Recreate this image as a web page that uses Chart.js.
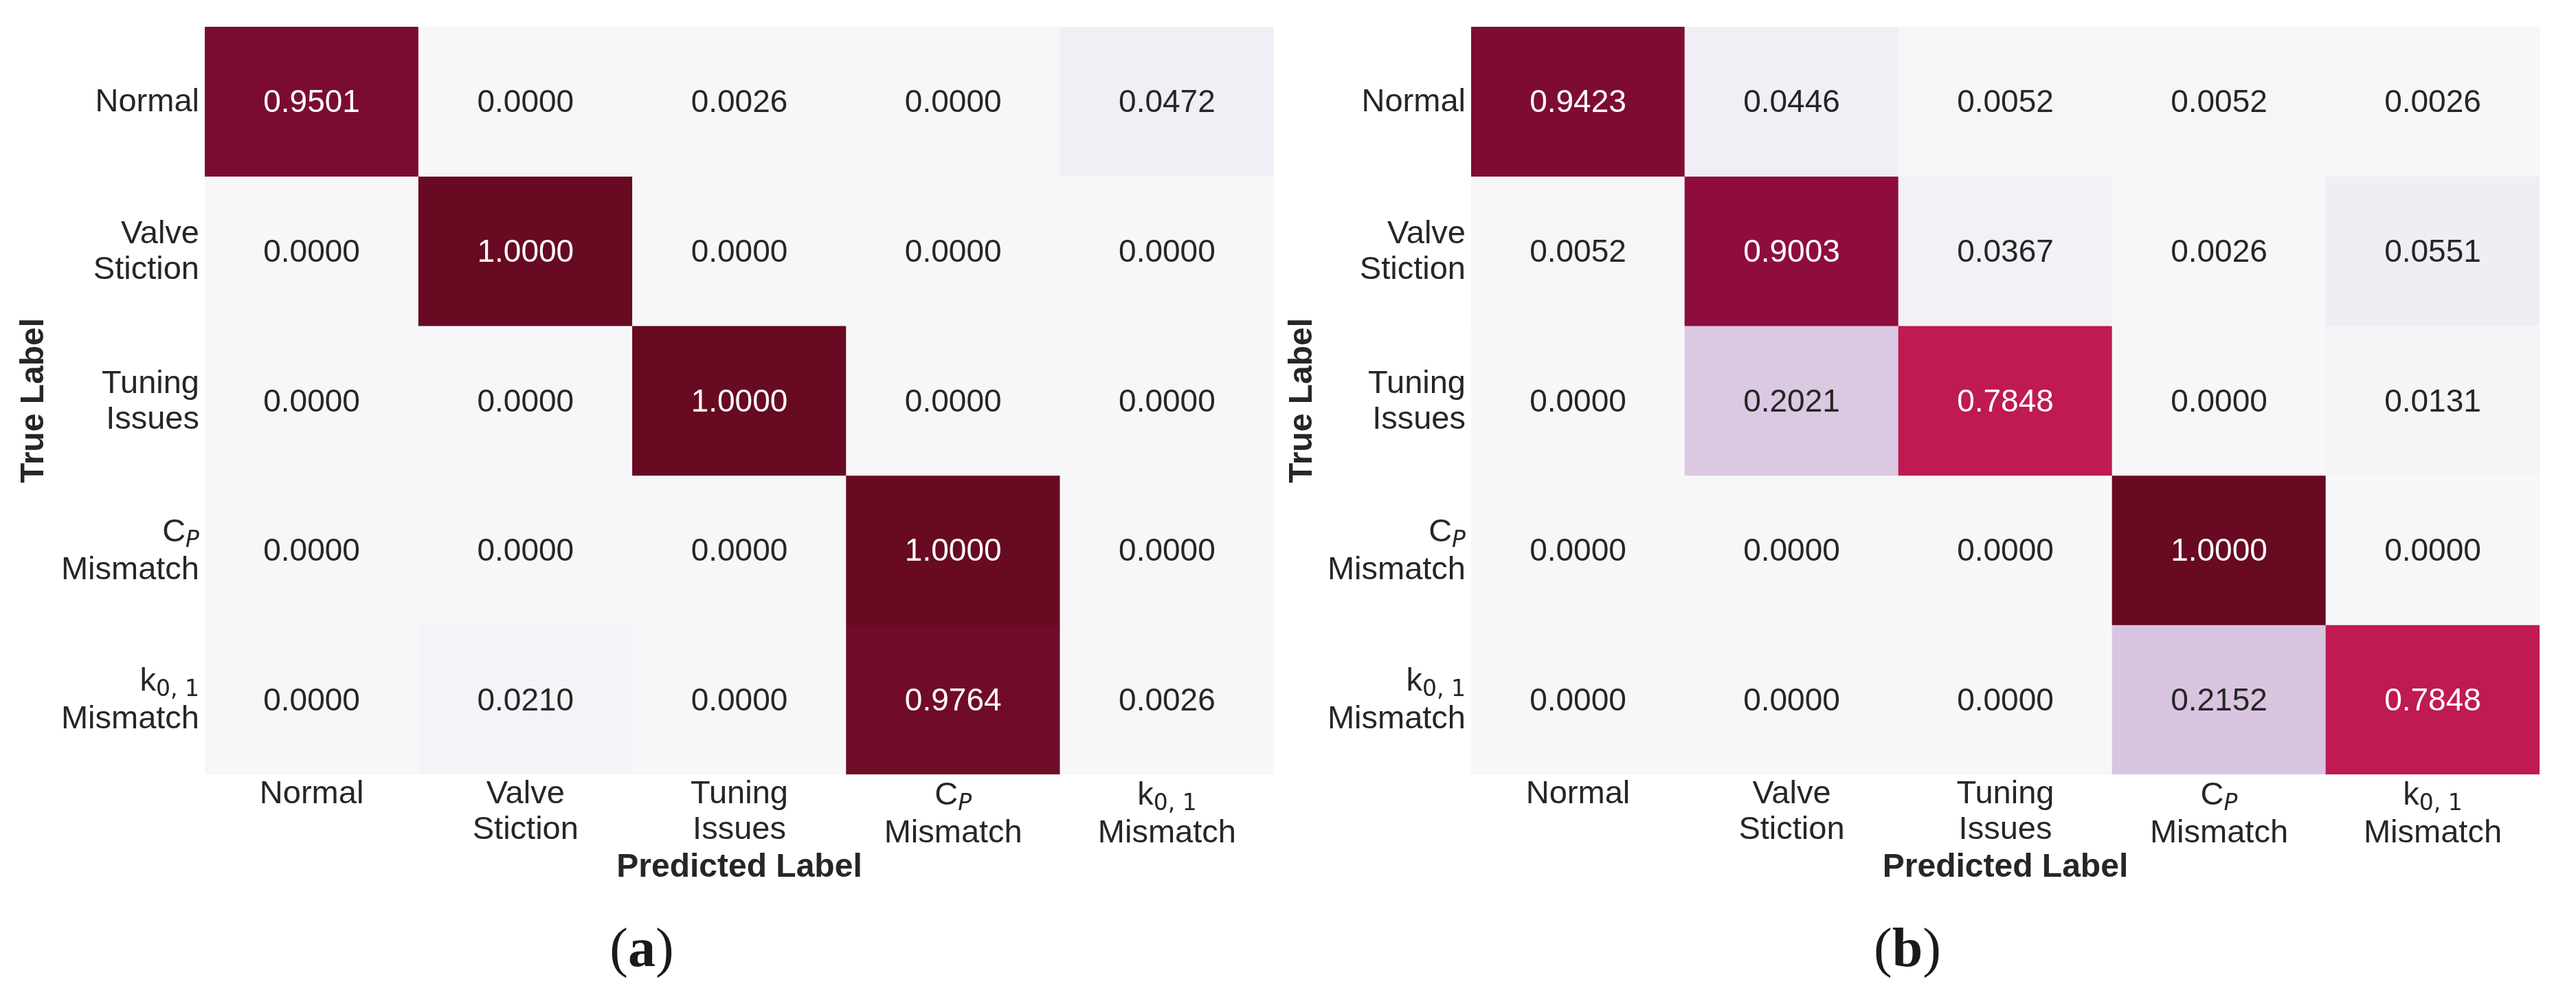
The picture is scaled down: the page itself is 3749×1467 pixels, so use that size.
<!DOCTYPE html>
<html><head><meta charset="utf-8">
<script src="https://cdn.jsdelivr.net/npm/chart.js@4.4.1/dist/chart.umd.min.js"></script>
<style>
html,body{margin:0;padding:0;background:#fff;}
body{width:3749px;height:1467px;position:relative;overflow:hidden;}
canvas{position:absolute;top:0;}
</style></head><body>
<canvas id="cA" width="1875" height="1467" style="left:0px"></canvas>
<canvas id="cB" width="1903" height="1467" style="left:1846px"></canvas>
<script>
// ---- data ----
const classLabels = ["Normal", "Valve\nStiction", "Tuning\nIssues", "C$_{P}$\nMismatch", "k$_{0, 1}$\nMismatch"];
const matrixA = [
  [0.9501, 0.0000, 0.0026, 0.0000, 0.0472],
  [0.0000, 1.0000, 0.0000, 0.0000, 0.0000],
  [0.0000, 0.0000, 1.0000, 0.0000, 0.0000],
  [0.0000, 0.0000, 0.0000, 1.0000, 0.0000],
  [0.0000, 0.0210, 0.0000, 0.9764, 0.0026]
];
const matrixB = [
  [0.9423, 0.0446, 0.0052, 0.0052, 0.0026],
  [0.0052, 0.9003, 0.0367, 0.0026, 0.0551],
  [0.0000, 0.2021, 0.7848, 0.0000, 0.0131],
  [0.0000, 0.0000, 0.0000, 1.0000, 0.0000],
  [0.0000, 0.0000, 0.0000, 0.2152, 0.7848]
];
const xTitle = "Predicted Label";
const yTitle = "True Label";
const captionLetters = ["a", "b"];

// ---- PuRd-like colormap (as it appears in the reference) ----
const puRd = [[247,247,249],[231,225,239],[212,185,218],[201,148,199],[223,101,176],[231,45,138],[206,30,88],[152,14,68],[103,10,34]];
function cmapRGB(v) {
  const t = Math.max(0, Math.min(1, v)) * (puRd.length - 1);
  const i = Math.min(puRd.length - 2, Math.floor(t));
  const f = t - i;
  return puRd[i].map((c, k) => Math.round(c + (puRd[i + 1][k] - c) * f));
}
function cmap(v) { const c = cmapRGB(v); return `rgb(${c[0]},${c[1]},${c[2]})`; }
function textColorFor(v) {
  const lin = cmapRGB(v).map(c => { c /= 255; return c <= 0.03928 ? c / 12.92 : Math.pow((c + 0.055) / 1.055, 2.4); });
  const lum = 0.2126 * lin[0] + 0.7152 * lin[1] + 0.0722 * lin[2];
  return lum > 0.408 ? '#262626' : '#ffffff';
}

const TXT = '#262626';
const FONT = '"Liberation Sans", Arial, sans-serif';
const MATHFONT = '"DejaVu Sans", sans-serif';
const TICK_SIZE = 47, SUB_SIZE = 33, CELL_SIZE = 46;

function parseLine(line) {
  const segs = []; const re = /\$_\{([^}]*)\}\$/g; let last = 0, m;
  while ((m = re.exec(line))) {
    if (m.index > last) segs.push({ t: line.slice(last, m.index), sub: false });
    for (const ch of m[1]) segs.push({ t: ch, sub: true, it: /[A-Za-z]/.test(ch) });
    last = re.lastIndex;
  }
  if (last < line.length) segs.push({ t: line.slice(last), sub: false });
  return segs;
}
function segFont(s) {
  if (!s.sub) return `${TICK_SIZE}px ${FONT}`;
  return `${s.it ? 'oblique ' : ''}${SUB_SIZE}px ${MATHFONT}`;
}
function drawRich(ctx, line, x, y, align) {
  const segs = parseLine(line);
  let total = 0;
  segs.forEach(s => { ctx.font = segFont(s); s.w = ctx.measureText(s.t).width; total += s.w; });
  let cx = align === 'right' ? x - total : (align === 'center' ? x - total / 2 : x);
  ctx.textAlign = 'left'; ctx.textBaseline = 'alphabetic';
  segs.forEach(s => { ctx.font = segFont(s); ctx.fillText(s.t, cx, y + (s.sub ? 8 : 0)); cx += s.w; });
}

const heatLabels = {
  id: 'heatLabels',
  afterDatasetsDraw(chart, args, opts) {
    const ctx = chart.ctx; const matrix = opts.matrix;
    ctx.save();
    ctx.textAlign = 'center'; ctx.textBaseline = 'alphabetic';
    ctx.font = `${CELL_SIZE}px ${FONT}`;
    matrix.forEach((row, r) => {
      const meta = chart.getDatasetMeta(r);
      meta.data.forEach((el, c) => {
        const v = row[c];
        const cy = (el.y + el.base) / 2;
        ctx.fillStyle = textColorFor(v);
        ctx.fillText(v.toFixed(4), el.x, cy + 15.5);
      });
    });
    ctx.restore();
  },
  afterDraw(chart, args, opts) {
    const ctx = chart.ctx; const area = chart.chartArea;
    const xs = chart.scales.x, ys = chart.scales.y;
    ctx.save(); ctx.fillStyle = TXT;
    const cap = 35;
    classLabels.forEach((lab, i) => {
      const lines = lab.split('\n');
      const hasSub = /\$_/.test(lines[0]);
      const L = hasSub ? 55 : 52;
      // y tick labels (true label rows)
      const blockH = cap + (lines.length - 1) * L;
      const cy = ys.getPixelForValue(i + 0.5) - 3;
      const b0 = cy - blockH / 2 + cap;
      lines.forEach((ln, k) => drawRich(ctx, ln, area.left - 8, b0 + k * L, 'right'));
      // x tick labels (predicted label columns)
      const cx = xs.getPixelForValue(i);
      const bx0 = area.bottom + 42 + (hasSub ? 2 : 0);
      lines.forEach((ln, k) => drawRich(ctx, ln, cx, bx0 + k * L, 'center'));
    });
    // caption "(a)" / "(b)"
    const capX = opts.captionX, capY = 1406;
    const parts = [{ t: '(', f: `80px "Liberation Serif", serif` }, { t: opts.letter, f: `bold 80px "Liberation Serif", serif` }, { t: ')', f: `80px "Liberation Serif", serif` }];
    let tot = 0; parts.forEach(p => { ctx.font = p.f; p.w = ctx.measureText(p.t).width; tot += p.w; });
    let px = capX - tot / 2; ctx.fillStyle = '#1a1a1a'; ctx.textAlign = 'left'; ctx.textBaseline = 'alphabetic';
    parts.forEach(p => { ctx.font = p.f; ctx.fillText(p.t, px, capY); px += p.w; });
    ctx.restore();
  }
};

function makeChart(id, matrix, yWidth, padRight, letter, captionX) {
  const datasets = matrix.map((row, r) => ({
    label: classLabels[r],
    data: row.map(() => [r, r + 1]),
    backgroundColor: row.map(v => cmap(v)),
    borderWidth: 0,
    grouped: false,
    barPercentage: 1,
    categoryPercentage: 1
  }));
  return new Chart(document.getElementById(id), {
    type: 'bar',
    data: { labels: classLabels.map((_, i) => String(i)), datasets },
    plugins: [heatLabels],
    options: {
      responsive: false, animation: false, devicePixelRatio: 1,
      layout: { padding: { left: 0, right: padRight, top: 39, bottom: 0 } },
      plugins: {
        legend: { display: false }, tooltip: { enabled: false },
        heatLabels: { matrix, letter, captionX }
      },
      scales: {
        x: {
          type: 'category', offset: true,
          grid: { display: false }, border: { display: false },
          ticks: { display: false },
          title: { display: true, text: xTitle, color: TXT, font: { family: FONT, size: 48, weight: 'bold' }, padding: { top: 0, bottom: 175 } },
          afterFit(s) { s.height = 340; }
        },
        y: {
          type: 'linear', min: 0, max: 5, reverse: true,
          grid: { display: false }, border: { display: false },
          ticks: { display: false },
          title: { display: true, text: yTitle, color: TXT, font: { family: FONT, size: 48, weight: 'bold' }, padding: { top: 21, bottom: 0 } },
          afterFit(s) { s.width = yWidth; }
        }
      }
    }
  });
}

makeChart('cA', matrixA, 298, 1875 - 1854, captionLetters[0], 934);
makeChart('cB', matrixB, 295, 1903 - 1850, captionLetters[1], 2776 - 1846);
</script>
</body></html>
